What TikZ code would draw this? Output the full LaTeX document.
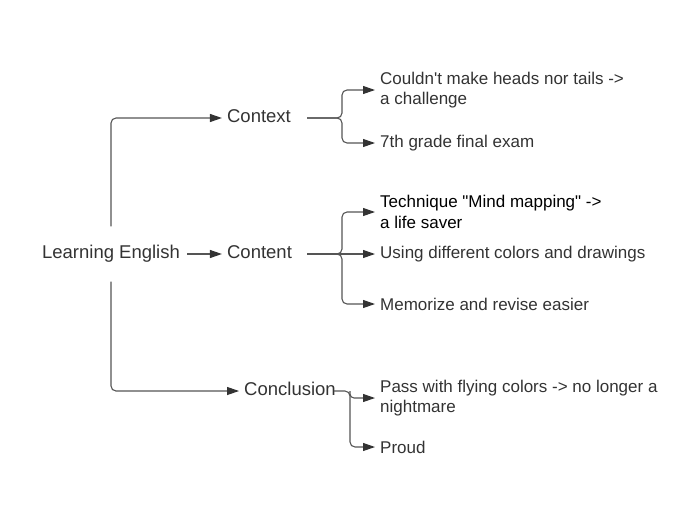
\documentclass[tikz,border=0pt]{standalone}
\usepackage{fontspec}
\setmainfont{Liberation Sans}[Ligatures=TeXOff]
\usetikzlibrary{arrows.meta}
\definecolor{txt}{HTML}{333333}
\definecolor{ln}{HTML}{555555}
\begin{document}
\begin{tikzpicture}[x=1pt,y=-1pt,
  main/.style={font=\fontsize{18.5}{22}\selectfont, text=txt, inner ysep=0pt, inner xsep=5pt, text height=13pt, text depth=4pt},
  leaf/.style={font=\fontsize{17}{20.5}\selectfont, text=txt, inner xsep=5pt, inner ysep=0pt, align=left, anchor=west},
  conn/.style={draw=ln, line width=1.1pt, rounded corners=5pt},
  arr/.style={conn, -{Triangle[length=12pt,width=8pt,color=txt]}}
]
\useasboundingbox (0,0) rectangle (700,517);

% main nodes
\node[main, inner xsep=7pt, minimum height=55pt] (le) at (111,254) {Learning English};
\node[main] (ctx) at (259,118) {Context};
\node[main] (cnt) at (259.5,254) {Content};
\node[main] (cnc) at (290,391) {Conclusion};

% leaves
\node[leaf] (a1) at (375,90) {Couldn't make heads nor tails ->\\a challenge};
\node[leaf] (a2) at (375,143) {7th grade final exam};
\node[leaf, text=black] (b1) at (375,212) {Technique "Mind mapping" ->\\a life saver};
\node[leaf] (b2) at (375,254) {Using different colors and drawings};
\node[leaf] (b3) at (375,304) {Memorize and revise easier};
\node[leaf] (c1) at (375,398) {Pass with flying colors -> no longer a\\nightmare};
\node[leaf] (c2) at (375,447) {Proud};

% junctions
\coordinate (j1) at (342,118);
\coordinate (j2) at (342,254);
\coordinate (j3a) at (350,391);
\coordinate (j3) at (350,420);

% main connectors
\draw[arr] (le.north) |- (ctx.west);
\draw[arr] (le.east) -- (cnt.west);
\draw[arr] (le.south) |- (cnc.west);

% context branch
\draw[arr, shorten <=11pt] (ctx.east) -- (j1) |- (a1.west);
\draw[arr, shorten <=11pt] (ctx.east) -- (j1) |- (a2.west);

% content branch
\draw[arr, shorten <=10pt] (cnt.east) -- (j2) |- (b1.west);
\draw[arr, shorten <=10pt] (cnt.east) -- (b2.west);
\draw[arr, shorten <=10pt] (cnt.east) -- (j2) |- (b3.west);

% conclusion branch
\draw[arr] ([xshift=-7pt]cnc.east) -| (j3) |- (c2.west);
\draw[arr, rounded corners=4pt] (j3a) |- (c1.west);
\end{tikzpicture}
\end{document}
